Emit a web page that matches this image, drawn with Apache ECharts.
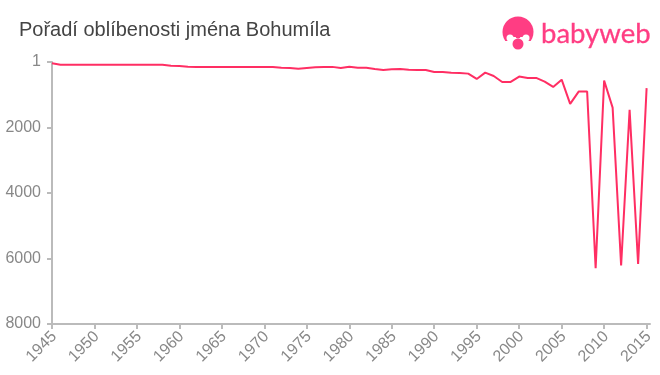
<!DOCTYPE html>
<html>
<head>
<meta charset="utf-8">
<style>
html, body { margin: 0; padding: 0; background: #fff; }
#chart { width: 660px; height: 375px; }
</style>
</head>
<body>
<div id="chart"></div>
<script src="https://cdn.jsdelivr.net/npm/echarts@6/dist/echarts.min.js"></script>
<script>
const titleText = "Pořadí oblíbenosti jména Bohumíla";
const years = [1945, 1946, 1947, 1948, 1949, 1950, 1951, 1952, 1953, 1954, 1955, 1956, 1957, 1958, 1959, 1960, 1961, 1962, 1963, 1964, 1965, 1966, 1967, 1968, 1969, 1970, 1971, 1972, 1973, 1974, 1975, 1976, 1977, 1978, 1979, 1980, 1981, 1982, 1983, 1984, 1985, 1986, 1987, 1988, 1989, 1990, 1991, 1992, 1993, 1994, 1995, 1996, 1997, 1998, 1999, 2000, 2001, 2002, 2003, 2004, 2005, 2006, 2007, 2008, 2009, 2010, 2011, 2012, 2013, 2014, 2015];
const ranks = [40, 85, 85, 85, 85, 85, 85, 85, 85, 85, 85, 85, 85, 85, 115, 120, 145, 150, 150, 150, 150, 150, 150, 150, 150, 150, 150, 175, 185, 210, 185, 160, 150, 150, 183, 143, 173, 180, 213, 244, 224, 213, 234, 244, 244, 305, 305, 326, 335, 356, 518, 326, 427, 610, 610, 447, 488, 488, 600, 762, 540, 1281, 905, 905, 6300, 570, 1394, 6213, 1464, 6170, 800];
const xTicks = [1945, 1950, 1955, 1960, 1965, 1970, 1975, 1980, 1985, 1990, 1995, 2000, 2005, 2010, 2015];
const yTicks = [1, 2000, 4000, 6000, 8000];

const chart = echarts.init(document.getElementById("chart"));

chart.setOption({
    animation: false,
    backgroundColor: "#fff",
    title: {
        text: titleText,
        left: 19,
        top: 20,
        padding: 0,
        textStyle: {
            fontFamily: "Liberation Sans",
            fontSize: 20,
            fontWeight: "normal",
            color: "#444",
        },
    },
    grid: { left: 52, right: 10, top: 62, bottom: 51 },
    xAxis: {
        type: "value",
        min: 1945,
        max: 2015.4,
        splitLine: { show: false },
        axisLine: { lineStyle: { color: "#bbb", width: 2 } },
        axisTick: { length: 5, customValues: xTicks, lineStyle: { color: "#bbb", width: 2 } },
        axisLabel: {
            customValues: xTicks,
            rotate: 45,
            margin: 8,
            align: "right",
            verticalAlign: "top",
            lineHeight: 6,
            fontFamily: "Liberation Sans",
            fontSize: 16,
            color: "#888",
            formatter: (v) => String(v),
        },
    },
    yAxis: {
        type: "value",
        inverse: true,
        min: 1,
        max: 8000,
        splitLine: { show: false },
        axisLine: { show: true, lineStyle: { color: "#bbb", width: 2 } },
        axisTick: { show: true, length: 5, customValues: yTicks, lineStyle: { color: "#bbb", width: 2 } },
        axisLabel: {
            customValues: yTicks,
            margin: 11,
            fontFamily: "Liberation Sans",
            fontSize: 16,
            color: "#888",
            formatter: (v) => String(v),
        },
    },
    series: [
        {
            type: "line",
            data: years.map((y, i) => [y, ranks[i]]),
            showSymbol: false,
            lineStyle: { color: "#ff2e63", width: 2 },
        },
    ],
    graphic: [
        // babyweb logo: head, face, dummy
        { type: "circle", shape: { cx: 518, cy: 32, r: 15.5 }, style: { fill: "#ff3d83" } },
        { type: "rect", shape: { x: 500, y: 41, width: 36, height: 12 }, style: { fill: "#fff" } },
        { type: "circle", shape: { cx: 510, cy: 38, r: 3.5 }, style: { fill: "#fff" } },
        { type: "circle", shape: { cx: 526, cy: 38, r: 3.5 }, style: { fill: "#fff" } },
        { type: "rect", shape: { x: 510, y: 37, width: 16, height: 5 }, style: { fill: "#fff" } },
        { type: "circle", shape: { cx: 518, cy: 36, r: 2.5 }, style: { fill: "#ff3d83" } },
        { type: "circle", shape: { cx: 518, cy: 44, r: 5.5 }, style: { fill: "#ff3d83" } },
        {
            type: "text",
            x: 541,
            y: 20,
            style: {
                text: "babyweb",
                fontFamily: "Lato",
                fontSize: 27.5,
                fill: "#ff3d83",
                stroke: "#ff3d83",
                lineWidth: 0.3,
            },
        },
    ],
});
</script>
</body>
</html>
